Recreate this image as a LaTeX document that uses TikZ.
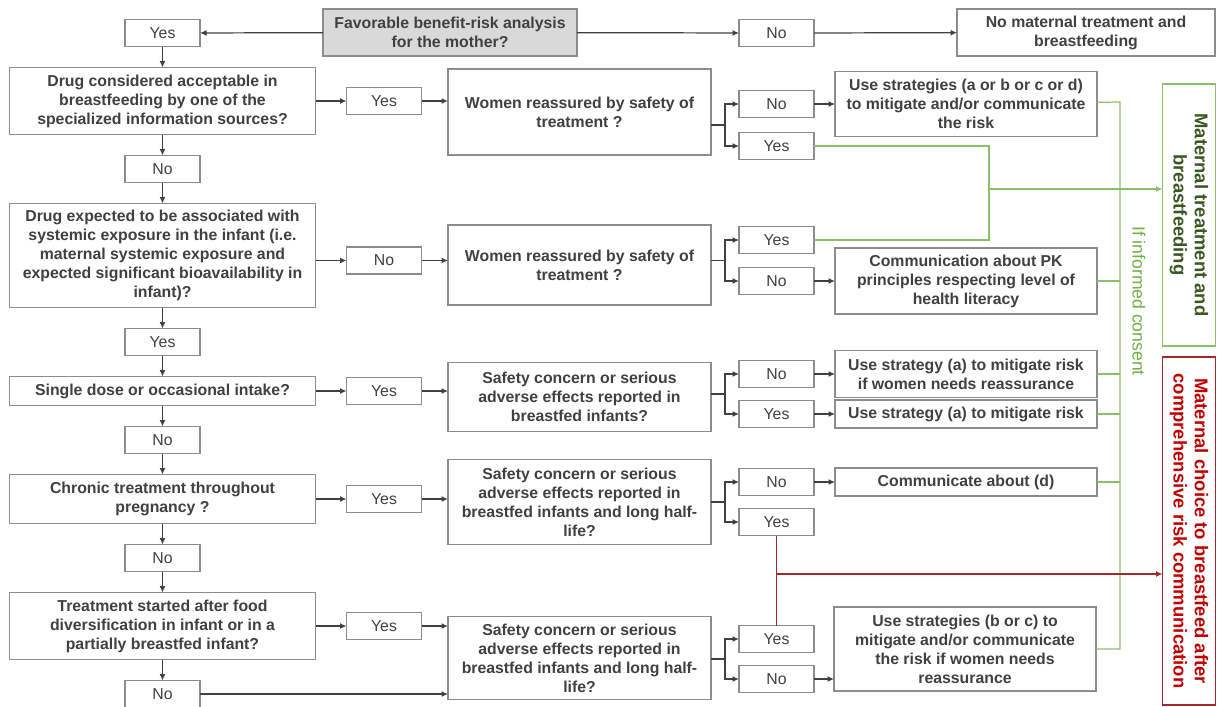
\documentclass[tikz,border=0pt]{standalone}
\usepackage{fontspec}
\setmainfont{Liberation Sans}
\usepackage{xcolor}
\usetikzlibrary{arrows.meta,positioning}

\definecolor{boxgray}{HTML}{8C8C8C}
\definecolor{textgray}{HTML}{404040}
\definecolor{linegray}{HTML}{404040}
\definecolor{favfill}{HTML}{D9D9D9}
\definecolor{okgreen}{HTML}{8CBF6A}
\definecolor{okdark}{HTML}{385723}
\definecolor{consentgreen}{HTML}{70AD47}
\definecolor{riskred}{HTML}{A5282C}
\definecolor{risktext}{HTML}{C00000}

\begin{document}
\begin{tikzpicture}[
  x=0.2mm,y=-0.2mm,
  node distance=4.2mm and 6.2mm,
  box/.style={draw=boxgray,line width=0.85pt,outer sep=0pt,align=center,inner sep=1pt,text=textgray,font=\bfseries\fontsize{9}{10.8}\selectfont},
  ans/.style={draw=boxgray,line width=0.85pt,outer sep=0pt,inner sep=1pt,minimum width=15mm,minimum height=5.4mm,text=textgray,font=\fontsize{9}{10.8}\selectfont},
  side/.style={draw,line width=0.85pt,outer sep=0pt,rotate=-90,align=center,minimum height=10.6mm,font=\bfseries\fontsize{10.5}{12}\selectfont},
  arrow/.style={-{Latex[length=1.3mm,width=1.2mm]},draw=linegray,line width=0.7pt},
  link/.style={draw=linegray,line width=0.7pt},
  okline/.style={draw=okgreen,line width=0.7pt},
  riskline/.style={draw=riskred,line width=0.7pt}
]
\useasboundingbox (0,0) rectangle (1217,706);

% top row
\node[box,fill=favfill,minimum width=50.8mm,minimum height=9.4mm] (fav) at (450,32.5) {Favorable benefit-risk analysis\\for the mother?};
\node[ans] (yes0) at (162.5,33) {Yes};
\node[ans] (nofav) at (776.5,33) {No};
\node[box,minimum width=51.6mm,minimum height=9.4mm] (stop) at (1086,32.5) {No maternal treatment and\\breastfeeding};

% left column
\node[box,minimum width=61.2mm,minimum height=13.4mm,below=of yes0] (accept) {Drug considered acceptable in\\breastfeeding by one of the\\specialized information sources?};
\node[ans,below=of accept] (no1) {No};
\node[box,minimum width=61.2mm,minimum height=20.8mm,below=of no1] (expo) {Drug expected to be associated with\\systemic exposure in the infant (i.e.\\maternal systemic exposure and\\expected significant bioavailability in\\infant)?};
\node[ans,below=of expo] (yes2) {Yes};
\node[box,minimum width=61.2mm,minimum height=5.8mm,below=of yes2] (single) {Single dose or occasional intake?};
\node[ans,below=of single] (no3) {No};
\node[box,minimum width=61.2mm,minimum height=9.8mm,below=of no3] (chronic) {Chronic treatment throughout\\pregnancy ?};
\node[ans,below=of chronic] (no4) {No};
\node[box,minimum width=61.2mm,minimum height=13.4mm,below=of no4] (food) {Treatment started after food\\diversification in infant or in a\\partially breastfed infant?};
\node[ans,below=of food] (no5) {No};

% second column
\node[ans,right=of accept] (yesA) {Yes};
\node[ans,right=of expo,yshift=-1mm] (noB) {No};
\node[ans,right=of single] (yesC) {Yes};
\node[ans,right=of chronic] (yesD) {Yes};
\node[ans,right=of food] (yesE) {Yes};

% questions
\node[box,minimum width=52.6mm,minimum height=17.2mm] (q1) at (579.5,112) {Women reassured by safety of\\treatment ?};
\node[box,minimum width=52.6mm,minimum height=16mm] (q2) at (579.5,265) {Women reassured by safety of\\treatment ?};
\node[box,minimum width=52.6mm,minimum height=13.8mm] (q3) at (579.5,397) {Safety concern or serious\\adverse effects reported in\\breastfed infants?};
\node[box,minimum width=52.6mm,minimum height=17mm] (q4) at (579.5,502) {Safety concern or serious\\adverse effects reported in\\breastfed infants and long half-\\life?};
\node[box,minimum width=52.6mm,minimum height=16.6mm] (q5) at (579.5,658) {Safety concern or serious\\adverse effects reported in\\breastfed infants and long half-\\life?};

% answers
\node[ans] (a1n) at (776.5,104) {No};
\node[ans] (a1y) at (776.5,146) {Yes};
\node[ans] (a2y) at (776.5,240) {Yes};
\node[ans] (a2n) at (776.5,281) {No};
\node[ans] (a3n) at (776.5,374) {No};
\node[ans] (a3y) at (776.5,414) {Yes};
\node[ans] (a4n) at (776.5,482) {No};
\node[ans] (a4y) at (776.5,522) {Yes};
\node[ans] (a5y) at (776.5,639) {Yes};
\node[ans] (a5n) at (776.5,679) {No};

% outcomes
\node[box,minimum width=52.4mm,minimum height=13mm,right=4.2mm of a1n] (o1) {Use strategies (a or b or c or d)\\to mitigate and/or communicate\\the risk};
\node[box,minimum width=52.4mm,minimum height=13.2mm,right=4.2mm of a2n] (o2) {Communication about PK\\principles respecting level of\\health literacy};
\node[box,minimum width=52.4mm,minimum height=9.4mm,right=4.2mm of a3n] (o3) {Use strategy (a) to mitigate risk\\if women needs reassurance};
\node[box,minimum width=52.4mm,minimum height=5.6mm,right=4.2mm of a3y] (o4) {Use strategy (a) to mitigate risk};
\node[box,minimum width=52.4mm,minimum height=5.6mm,right=4.2mm of a4n] (o5) {Communicate about (d)};
\node[box,minimum width=52.4mm,minimum height=16.8mm] (o6) at (965,649) {Use strategies (b or c) to\\mitigate and/or communicate\\the risk if women needs\\reassurance};

% final decisions
\node[side,draw=okgreen,text=okdark,minimum width=52.4mm] (keep) at (1189,215) {Maternal treatment and\\breastfeeding};
\node[side,draw=riskred,text=risktext,minimum width=69.6mm] (choice) at (1189,531) {Maternal choice to breastfeed after\\comprehensive risk communication};
\node[rotate=-90,text=consentgreen,font=\fontsize{10}{12}\selectfont] (consent) at (1139,301) {If informed consent};

% connectors
\draw[arrow] (fav) -- (yes0);
\draw[arrow] (fav) -- (nofav);
\draw[arrow] (nofav) -- (stop);
\foreach \a/\b in {yes0/accept,accept/no1,no1/expo,expo/yes2,yes2/single,single/no3,no3/chronic,chronic/no4,no4/food,food/no5}
  \draw[arrow] (\a) -- (\b);

\draw[arrow] (accept) -- (yesA);
\draw[arrow] (noB -| expo.east) -- (noB);
\draw[arrow] (single) -- (yesC);
\draw[arrow] (chronic) -- (yesD);
\draw[arrow] (food) -- (yesE);
\draw[arrow] (yesA) -- (yesA -| q1.west);
\draw[arrow] (noB) -- (noB -| q2.west);
\draw[arrow] (yesC) -- (yesC -| q3.west);
\draw[arrow] (yesD) -- (yesD -| q4.west);
\draw[arrow] (yesE) -- (yesE -| q5.west);
\draw[arrow] (no5) -- (no5 -| q5.west);

\foreach \q/\up/\dn/\y in {q1/a1n/a1y/125,q2/a2y/a2n/260.5,q3/a3n/a3y/394,q4/a4n/a4y/502,q5/a5y/a5n/659} {
  \coordinate (fork) at (725,\y);
  \draw[link] (fork -| \q.east) -- (fork);
  \draw[arrow] (fork) |- (\up);
  \draw[arrow] (fork) |- (\dn);
}

\draw[arrow] (a1n) -- (o1);
\draw[arrow] (a2n) -- (o2);
\draw[arrow] (a3n) -- (o3);
\draw[arrow] (a3y) -- (o4);
\draw[arrow] (a4n) -- (o5);
\draw[arrow] (a5n) -- (a5n -| o6.west);

% informed consent
\coordinate (oktop) at (1120,102);
\coordinate (okbot) at (1120,649);
\draw[okline] (o1) -- (oktop) -- (okbot) -- (o6);
\foreach \o in {o2,o3,o4,o5}
  \draw[okline] (\o.east) -- (\o.east -| oktop);

\coordinate (okjoin) at (989,189);
\draw[okline] (a1y) -| (okjoin) |- (a2y);
\draw[okline,-{Latex[length=1.3mm,width=1.2mm]}] (okjoin) -- (okjoin -| keep.south);

\coordinate (riskjoin) at (776.5,574);
\draw[riskline] (a4y) -- (a5y);
\draw[riskline,-{Latex[length=1.3mm,width=1.2mm]}] (riskjoin) -- (riskjoin -| choice.south);
\end{tikzpicture}
\end{document}
